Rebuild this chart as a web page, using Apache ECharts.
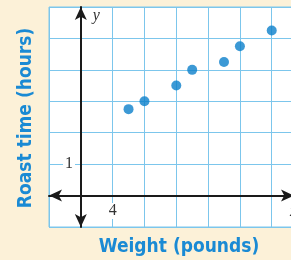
<!DOCTYPE html>
<html>
<head>
<meta charset="utf-8">
<script src="https://cdn.jsdelivr.net/npm/echarts@6/dist/echarts.min.js"></script>
<style>
  html, body { margin: 0; padding: 0; background: #fcf1d8; }
  #chart { width: 291px; height: 260px; }
</style>
</head>
<body>
<div id="chart"></div>
<script>
// weight in pounds, roast time in hours
const weights = [6, 8, 12, 14, 18, 20, 24]
const roastHours = [2.75, 3, 3.5, 4, 4.25, 4.75, 5.25]
const xTickLabels = ['4']
const yTickLabels = ['1']

const blue = '#1a8ad4'
const gridBlue = '#7cc6ec'
const numFont = 'Liberation Serif'

const chart = echarts.init(document.getElementById('chart'))

chart.setOption({
  backgroundColor: '#fcf1d8',
  animation: false,
  grid: {
    left: 49,
    top: 7,
    right: -3,
    bottom: 33,
    outerBoundsMode: 'none',
    containLabel: false,
    show: true,
    backgroundColor: '#ffffff',
    borderColor: gridBlue,
    borderWidth: 1
  },
  xAxis: {
    type: 'value',
    min: -4,
    max: 26.8,
    interval: 4,
    name: 'x',
    nameLocation: 'end',
    nameGap: -4,
    nameTextStyle: {
      fontFamily: numFont, fontStyle: 'italic', fontSize: 16, color: '#333',
      align: 'left', verticalAlign: 'top', padding: [8, 0, 0, 0]
    },
    axisLine: {
      onZero: true,
      symbol: ['arrow', 'arrow'],
      symbolSize: [9, 13],
      lineStyle: { color: '#1a1a1a', width: 2 }
    },
    axisTick: { show: false },
    splitLine: { show: true, lineStyle: { color: gridBlue, width: 1 } },
    axisLabel: {
      fontFamily: numFont,
      fontSize: 16,
      color: '#333',
      margin: -24,
      backgroundColor: '#fff',
      formatter: v => xTickLabels.includes(String(v)) ? String(v) : ''
    }
  },
  yAxis: {
    type: 'value',
    min: -1,
    max: 6,
    interval: 1,
    name: 'y',
    nameLocation: 'end',
    nameGap: -1,
    nameTextStyle: {
      fontFamily: numFont, fontStyle: 'italic', fontSize: 16, color: '#333',
      align: 'left', verticalAlign: 'top', padding: [0, 0, 0, 12]
    },
    axisLine: {
      onZero: true,
      symbol: ['arrow', 'arrow'],
      symbolSize: [9, 13],
      lineStyle: { color: '#1a1a1a', width: 2 }
    },
    axisTick: { show: false },
    splitLine: { show: true, lineStyle: { color: gridBlue, width: 1 } },
    axisLabel: {
      fontFamily: numFont,
      fontSize: 16,
      color: '#333',
      margin: -26,
      backgroundColor: '#fff',
      padding: [0, 2, 0, 2],
      formatter: v => yTickLabels.includes(String(v)) ? String(v) : ''
    }
  },
  graphic: [
    {
      type: 'text',
      x: 26,
      y: 118,
      rotation: Math.PI / 2,
      style: {
        text: 'Roast time (hours)',
        fontFamily: 'DejaVu Sans Condensed',
        fontWeight: 'bold',
        fontSize: 19,
        fill: blue,
        align: 'center',
        verticalAlign: 'middle'
      }
    },
    {
      type: 'text',
      x: 179,
      y: 247,
      style: {
        text: 'Weight (pounds)',
        fontFamily: 'DejaVu Sans Condensed',
        fontWeight: 'bold',
        fontSize: 19,
        fill: blue,
        align: 'center',
        verticalAlign: 'middle'
      }
    }
  ],
  series: [{
    type: 'scatter',
    symbolSize: 10,
    itemStyle: { color: '#0b7fca' },
    data: weights.map((w, i) => [w, roastHours[i]])
  }]
})
</script>
</body>
</html>
